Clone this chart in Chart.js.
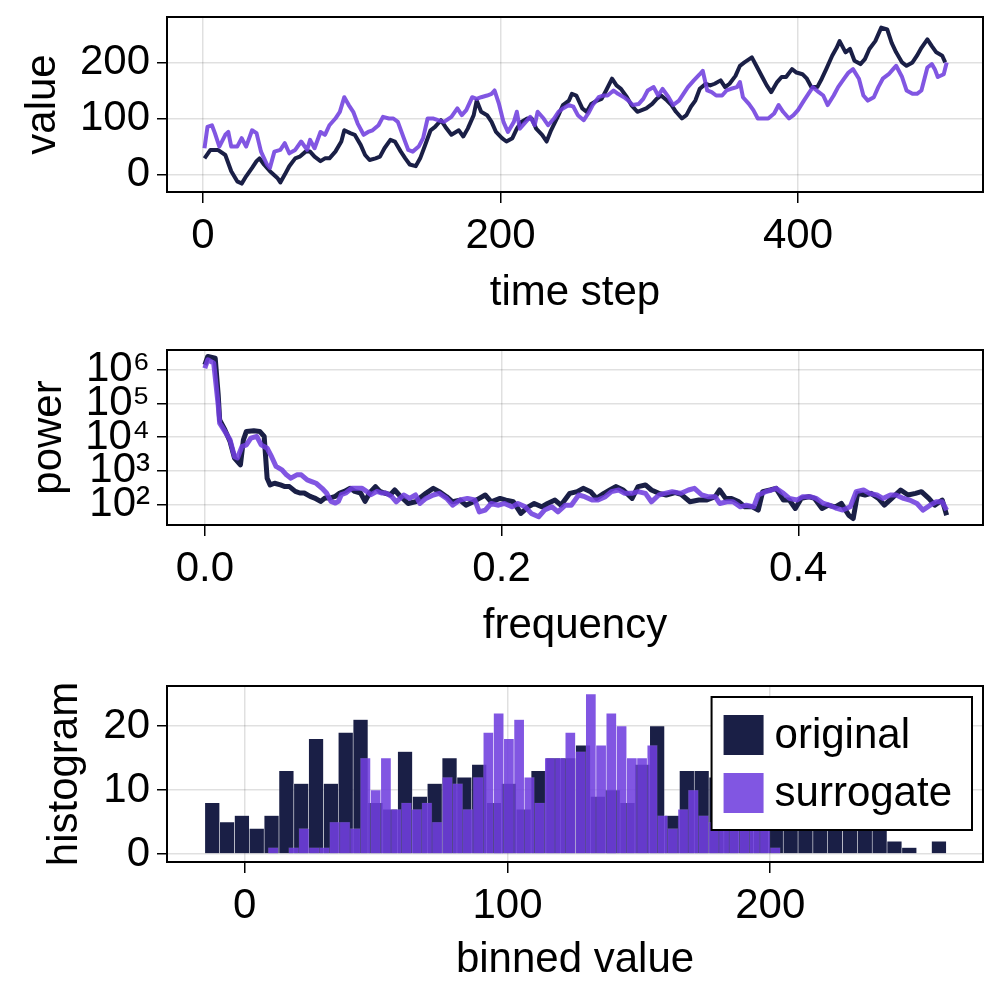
<!DOCTYPE html>
<html>
<head>
<meta charset="utf-8">
<script src="https://cdn.jsdelivr.net/npm/chart.js@4.4.1/dist/chart.umd.min.js"></script>
<style>
  body { margin: 0; background: #fff; }
  #wrap { position: relative; width: 1000px; height: 1000px; }
  canvas { position: absolute; left: 0; }
</style>
</head>
<body>
<div id="wrap">
  <canvas id="seriesChart" width="1000" height="330" style="top:0"></canvas>
  <canvas id="spectrumChart" width="1000" height="330" style="top:330px"></canvas>
  <canvas id="histChart" width="1000" height="340" style="top:660px"></canvas>
</div>
<script>
// time series, points
const timeOriginal = [1,5,10,15,19,23,26,29,33,36,
  38,41,45,50,52,55,58,62,65,69,
  72,75,79,82,85,89,93,95,99,102,
  106,109,112,116,119,122,126,129,133,136,
  139,143,146,149,153,156,160,163,167,172,
  175,178,182,184,187,191,194,197,201,204,
  208,211,214,218,221,224,228,231,234,239,
  242,246,248,251,255,258,261,265,268,271,
  275,278,281,285,288,292,295,298,302,305,
  308,312,315,318,322,325,328,331,334,338,
  341,344,348,351,354,358,361,364,369,372,
  376,379,382,386,389,392,396,399,403,406,
  409,413,416,419,423,426,428,432,435,438,
  442,445,448,452,454,456,460,463,466,470,
  473,477,480,483,487,490,493,497,499];
const valueOriginal = [29,44,44,35,6,-12,-16,-3,12,24,
  29,18,6,-6,-14,0,15,29,32,41,
  41,32,24,29,29,41,59,79,74,71,
  53,35,26,29,32,47,62,59,41,29,
  18,15,29,50,79,85,97,85,71,79,
  68,82,106,132,112,106,94,76,65,59,
  65,82,94,100,100,82,71,59,79,106,
  124,132,144,141,118,112,126,132,135,150,
  171,159,153,138,124,112,115,118,126,135,
  141,132,124,112,100,106,121,132,153,162,
  159,162,168,156,162,176,194,200,209,194,
  174,159,147,165,174,174,188,182,179,171,
  156,156,171,188,212,226,238,218,224,203,
  197,206,224,238,250,262,259,235,218,200,
  194,200,212,226,241,229,218,212,200];
const timeSurrogate = [1,3,6,8,11,15,17,19,23,26,
  29,33,36,39,43,45,48,52,55,58,
  62,66,70,72,75,79,82,85,89,92,
  95,98,101,104,108,111,114,118,121,125,
  128,131,135,138,141,145,148,151,155,158,
  162,167,171,174,177,181,184,187,191,194,
  196,199,202,205,209,211,213,217,220,223,
  225,229,232,236,239,242,246,249,252,256,
  259,262,266,269,272,276,279,283,286,289,
  293,296,299,303,306,309,313,316,320,323,
  326,330,334,336,339,342,345,349,352,355,
  359,361,363,367,370,373,377,380,384,387,
  390,394,397,400,404,407,410,414,417,420,
  424,427,431,434,437,441,444,447,451,454,
  457,461,464,466,470,473,477,480,483,487,
  490,492,494,498,500];
const valueSurrogate = [47,85,88,74,50,71,76,50,50,65,
  50,79,74,41,18,12,41,44,56,38,
  44,59,44,62,47,76,71,88,100,112,
  138,124,112,91,71,76,79,88,103,100,
  100,94,65,44,41,50,65,100,100,97,
  94,103,118,106,115,138,135,138,141,144,
  150,126,94,76,94,112,82,94,103,88,
  112,100,88,100,112,118,124,121,106,97,
  109,124,138,141,141,150,144,138,132,124,
  126,135,150,156,141,153,138,124,132,144,
  156,168,179,185,150,147,141,141,150,153,
  156,165,138,126,115,100,100,100,109,124,
  112,100,106,115,132,144,156,147,141,124,
  141,156,171,182,188,171,141,132,138,156,
  171,179,188,194,174,150,144,144,150,191,
  197,188,174,179,200];

// power spectra
const freqOriginal = [0,0.002,0.007,0.009,0.010,0.0135,0.017,0.020,0.024,0.026,
  0.028,0.033,0.037,0.040,0.042,0.044,0.047,0.051,0.054,0.057,
  0.061,0.064,0.067,0.071,0.074,0.078,0.081,0.084,0.088,0.091,
  0.094,0.098,0.101,0.105,0.108,0.111,0.115,0.118,0.121,0.125,
  0.128,0.131,0.137,0.142,0.146,0.149,0.154,0.158,0.163,0.167,
  0.172,0.176,0.181,0.185,0.189,0.193,0.199,0.203,0.208,0.213,
  0.218,0.222,0.227,0.231,0.236,0.240,0.246,0.251,0.255,0.260,
  0.264,0.269,0.273,0.277,0.282,0.288,0.292,0.297,0.301,0.306,
  0.311,0.317,0.321,0.327,0.333,0.338,0.344,0.347,0.351,0.355,
  0.360,0.364,0.369,0.373,0.376,0.381,0.385,0.390,0.394,0.398,
  0.402,0.407,0.411,0.416,0.420,0.425,0.429,0.434,0.437,0.440,
  0.445,0.449,0.454,0.458,0.463,0.469,0.474,0.479,0.483,0.488,
  0.492,0.497,0.500];
const powerOriginal = [1.41e6,2.51e6,2.24e6,1.82e5,3.24e4,1.66e4,7410,2400,1510,8320,
  14800,15500,14800,10500,603,380,427,380,339,339,
  245,219,219,174,155,123,155,155,174,219,
  245,302,245,219,123,219,339,245,219,195,
  269,191,107,120,170,214,302,240,170,120,
  135,95,120,151,191,120,151,135,120,54,
  85,107,85,107,135,95,214,240,302,240,
  151,214,269,339,269,151,339,380,269,214,
  191,224,200,120,135,135,170,269,151,151,
  120,85,85,68,240,269,302,135,135,76,
  151,170,151,76,95,85,107,48,38,214,
  191,214,151,95,151,269,191,214,240,151,
  95,135,48];
const freqSurrogate = [0,0.002,0.006,0.009,0.010,0.0135,0.017,0.020,0.022,0.025,
  0.028,0.031,0.035,0.038,0.042,0.045,0.048,0.052,0.055,0.058,
  0.062,0.065,0.069,0.072,0.075,0.079,0.082,0.085,0.088,0.090,
  0.092,0.095,0.099,0.102,0.106,0.109,0.112,0.116,0.119,0.122,
  0.126,0.129,0.134,0.138,0.142,0.145,0.149,0.154,0.158,0.163,
  0.167,0.172,0.177,0.182,0.185,0.189,0.193,0.198,0.202,0.207,
  0.211,0.216,0.220,0.225,0.229,0.234,0.238,0.243,0.247,0.252,
  0.256,0.261,0.265,0.270,0.274,0.279,0.283,0.288,0.292,0.297,
  0.301,0.306,0.310,0.315,0.321,0.326,0.330,0.335,0.339,0.344,
  0.347,0.352,0.356,0.361,0.365,0.370,0.373,0.378,0.382,0.385,
  0.390,0.394,0.399,0.403,0.408,0.412,0.417,0.421,0.426,0.430,
  0.435,0.439,0.444,0.448,0.453,0.457,0.462,0.466,0.471,0.475,
  0.480,0.484,0.489,0.493,0.497,0.500];
const powerSurrogate = [1.12e6,2.0e6,1.58e6,9.1e4,2.6e4,1.48e4,8300,2630,2400,5250,
  5890,9330,10500,5890,4680,2630,1350,1070,759,603,
  759,759,537,479,427,302,219,123,110,123,
  195,219,302,302,302,245,195,245,219,219,
  170,120,191,151,191,107,151,191,214,151,
  95,135,151,135,60,68,107,95,107,85,
  107,85,54,43,68,85,60,95,95,191,
  170,135,135,170,240,269,214,214,240,214,
  120,191,214,240,214,269,302,191,170,170,
  107,120,120,85,95,85,191,240,269,302,
  214,151,135,170,170,151,107,95,76,68,
  85,240,269,214,191,151,191,191,151,135,
  107,68,95,120,120,68];

// histograms, 50 bins each
const originalBinStart = -15.2;
const originalBinWidth = 5.645;
const originalCounts = [8,5,6,4,6,13,11,18,11,19, 21,8,7,16,9,11,15,12,14,8,
  11,7,13,15,15,17,9,10,8,14, 20,6,13,13,12,10,11,9,10,8, 9,8,7,6,7,5,2,1,0,2];
const surrogateBinStart = 8.88;
const surrogateBinWidth = 3.9;
const surrogateCounts = [1,0,1,4,1,1,5,5,4,15, 10,15,7,8,7,8,5,12,11,7,
  12,19,22,18,21,12,8,15,15,19, 16,25,17,22,20,15,15,17,6,4, 7,10,6,5,6,5,6,5,4,1];

const seriesNames = ["original", "surrogate"];

const FONT = "'Liberation Sans', Arial, sans-serif";
const NAVY = "rgb(26,31,70)";
const PURPLE = "rgba(111,63,222,0.88)";
const AXIS_LEFT = 167;

Chart.defaults.font.family = FONT;
Chart.defaults.font.size = 42;
Chart.defaults.color = "#000";
Chart.defaults.animation = false;
Chart.defaults.plugins.legend.display = false;
Chart.defaults.plugins.tooltip.enabled = false;

const gridStyle = { color: "rgba(0,0,0,0.12)", lineWidth: 1.5, tickColor: "#000", tickWidth: 1.5 };

function toPoints(xs, ys) {
  return xs.map((x, i) => ({ x: x, y: ys[i] }));
}

function binCenters(start, width, counts) {
  return counts.map((c, i) => start + width * (i + 0.5));
}

function bottomAxis(min, max, ticks, title, height, titlePad, fmt) {
  return {
    type: "linear", min: min, max: max, offset: false,
    afterBuildTicks: s => { s.ticks = ticks.map(v => ({ value: v })); },
    afterFit: s => { s.height = height; s.paddingLeft = 0; s.paddingRight = 0; },
    grid: Object.assign({ tickLength: 11, offset: false }, gridStyle),
    border: { display: false },
    ticks: { padding: 8, maxRotation: 0, autoSkip: false, callback: fmt || (v => String(v)) },
    title: { display: true, text: title, padding: { top: 0, bottom: titlePad } }
  };
}

function leftAxis(type, min, max, ticks, title, titlePad, fmt) {
  return {
    type: type, min: min, max: max,
    afterBuildTicks: s => { s.ticks = ticks.map(v => ({ value: v })); },
    afterFit: s => { s.width = AXIS_LEFT; s.paddingTop = 0; s.paddingBottom = 0; },
    grid: Object.assign({ tickLength: 10 }, gridStyle),
    border: { display: false },
    ticks: { padding: 7, autoSkip: false, callback: fmt || (v => String(v)) },
    title: { display: true, text: title, padding: { top: titlePad, bottom: 0 } }
  };
}

// black box round the plot area
const frame = {
  id: "frame",
  afterDatasetsDraw(chart) {
    const a = chart.chartArea, ctx = chart.ctx;
    ctx.save();
    ctx.strokeStyle = "#000";
    ctx.lineWidth = 2;
    ctx.strokeRect(a.left, a.top, a.right - a.left, a.bottom - a.top);
    ctx.restore();
  }
};

// legend box inside the histogram
const histLegend = {
  id: "histLegend",
  afterDraw(chart) {
    const ctx = chart.ctx, area = chart.chartArea;
    const sets = chart.data.datasets;
    ctx.save();
    ctx.font = "42px " + FONT;
    const textW = Math.max(...sets.map(d => ctx.measureText(d.label).width));
    const w = 63 + textW + 20, h = 133;
    const right = area.right - 11, top = area.top + 11, left = right - w;
    ctx.fillStyle = "#fff";
    ctx.fillRect(left, top, w, h);
    ctx.strokeStyle = "#000";
    ctx.lineWidth = 2;
    ctx.strokeRect(left, top, w, h);
    sets.forEach((d, i) => {
      const cy = top + 38 + i * 58;
      ctx.fillStyle = d.backgroundColor;
      ctx.fillRect(left + 12, cy - 20, 40, 40);
      ctx.fillStyle = "#000";
      ctx.textBaseline = "middle";
      ctx.textAlign = "left";
      ctx.fillText(d.label, left + 63, cy + 1);
    });
    ctx.restore();
  }
};

// top: time series
new Chart(document.getElementById("seriesChart"), {
  type: "line",
  data: {
    datasets: [
      { label: seriesNames[0], data: toPoints(timeOriginal, valueOriginal), borderColor: NAVY, borderWidth: 4, order: 1 },
      { label: seriesNames[1], data: toPoints(timeSurrogate, valueSurrogate), borderColor: PURPLE, borderWidth: 4, order: 0 }
    ]
  },
  options: {
    responsive: false,
    devicePixelRatio: 1,
    layout: { padding: { top: 17, right: 17, left: 0, bottom: 0 } },
    elements: { point: { radius: 0 }, line: { tension: 0, borderJoinStyle: "round" } },
    scales: {
      x: bottomAxis(-24.2, 524.4, [0, 200, 400], "time step", 138, 11),
      y: leftAxis("linear", -31, 281, [0, 100, 200], "value", 18)
    }
  },
  plugins: [frame]
});

// middle: power spectrum
const sup = { 2: "\u00b2", 3: "\u00b3", 4: "\u2074", 5: "\u2075", 6: "\u2076" };
new Chart(document.getElementById("spectrumChart"), {
  type: "line",
  data: {
    datasets: [
      { label: seriesNames[0], data: toPoints(freqOriginal, powerOriginal), borderColor: NAVY, borderWidth: 5, order: 1 },
      { label: seriesNames[1], data: toPoints(freqSurrogate, powerSurrogate), borderColor: PURPLE, borderWidth: 5, order: 0 }
    ]
  },
  options: {
    responsive: false,
    devicePixelRatio: 1,
    layout: { padding: { top: 20, right: 17, left: 0, bottom: 0 } },
    elements: { point: { radius: 0 }, line: { tension: 0, borderJoinStyle: "round" } },
    scales: {
      x: bottomAxis(-0.0255, 0.5245, [0, 0.2, 0.4], "frequency", 135, 8, v => v.toFixed(1)),
      y: leftAxis("logarithmic", 24.5, 3.9e6, [1e2, 1e3, 1e4, 1e5, 1e6], "power", 24,
        v => "10" + sup[Math.round(Math.log10(v))])
    }
  },
  plugins: [frame]
});

// bottom: histograms
new Chart(document.getElementById("histChart"), {
  type: "bar",
  data: {
    datasets: [
      {
        label: seriesNames[0],
        data: toPoints(binCenters(originalBinStart, originalBinWidth, originalCounts), originalCounts),
        backgroundColor: NAVY, borderColor: "rgba(255,255,255,0.3)", borderWidth: 0.6,
        xAxisID: "x", order: 1
      },
      {
        label: seriesNames[1],
        data: toPoints(binCenters(surrogateBinStart, surrogateBinWidth, surrogateCounts), surrogateCounts),
        backgroundColor: PURPLE, borderColor: "rgba(255,255,255,0.15)", borderWidth: 0.6,
        xAxisID: "x2", order: 0
      }
    ]
  },
  options: {
    responsive: false,
    devicePixelRatio: 1,
    layout: { padding: { top: 26, right: 17, left: 0, bottom: 0 } },
    datasets: { bar: { grouped: false, barPercentage: 1, categoryPercentage: 1, borderSkipped: "bottom" } },
    scales: {
      x: bottomAxis(-29.6, 281, [0, 100, 200], "binned value", 138, 14),
      x2: {
        type: "linear", min: -29.6, max: 281, offset: false, display: false,
        afterBuildTicks: s => { s.ticks = [0, 100, 200].map(v => ({ value: v })); }
      },
      y: leftAxis("linear", -1.25, 26.25, [0, 10, 20], "histogram", 40)
    }
  },
  plugins: [frame, histLegend]
});
</script>
</body>
</html>
